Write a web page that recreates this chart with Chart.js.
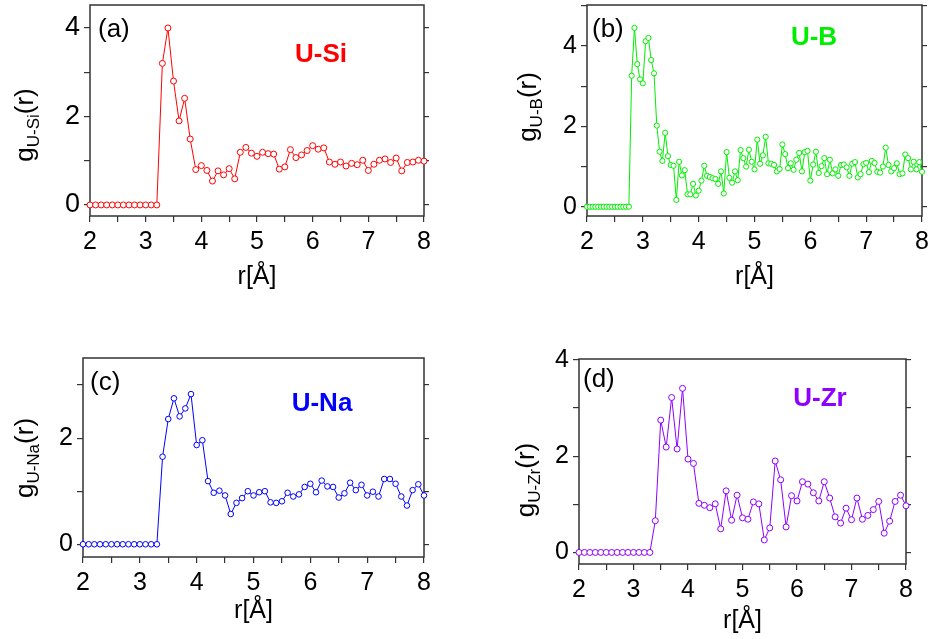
<!DOCTYPE html>
<html>
<head>
<meta charset="utf-8">
<script src="https://cdn.jsdelivr.net/npm/chart.js@4.4.0/dist/chart.umd.min.js"></script>
<style>
	html, body { margin: 0; padding: 0; background: #fff; }
	body { width: 934px; height: 639px; position: relative; overflow: hidden; }
	canvas { position: absolute; }
</style>
</head>
<body>
<canvas id="cA" style="left:0px;top:0px" width="467" height="292"></canvas>
<canvas id="cB" style="left:467px;top:0px" width="467" height="292"></canvas>
<canvas id="cC" style="left:0px;top:320px" width="467" height="306"></canvas>
<canvas id="cD" style="left:467px;top:320px" width="467" height="316"></canvas>
<script>
// r grids (Å)
const rCoarse = [2.0, 2.1, 2.2, 2.3, 2.4, 2.5, 2.6, 2.7, 2.8, 2.9, 3.0, 3.1, 3.2, 3.3, 3.4, 3.5, 3.6, 3.7, 3.8, 3.9,
	4.0, 4.1, 4.2, 4.3, 4.4, 4.5, 4.6, 4.7, 4.8, 4.9, 5.0, 5.1, 5.2, 5.3, 5.4, 5.5, 5.6, 5.7, 5.8, 5.9,
	6.0, 6.1, 6.2, 6.3, 6.4, 6.5, 6.6, 6.7, 6.8, 6.9, 7.0, 7.1, 7.2, 7.3, 7.4, 7.5, 7.6, 7.7, 7.8, 7.9, 8.0];
const rFine = [2.00, 2.05, 2.10, 2.15, 2.20, 2.25, 2.30, 2.35, 2.40, 2.45, 2.50, 2.55, 2.60, 2.65, 2.70, 2.75,
	2.80, 2.85, 2.90, 2.95, 3.00, 3.05, 3.10, 3.15, 3.20, 3.25, 3.30, 3.35, 3.40, 3.45, 3.50, 3.55, 3.60, 3.65, 3.70, 3.75,
	3.80, 3.85, 3.90, 3.95, 4.00, 4.05, 4.10, 4.15, 4.20, 4.25, 4.30, 4.35, 4.40, 4.45, 4.50, 4.55, 4.60, 4.65, 4.70, 4.75,
	4.80, 4.85, 4.90, 4.95, 5.00, 5.05, 5.10, 5.15, 5.20, 5.25, 5.30, 5.35, 5.40, 5.45, 5.50, 5.55, 5.60, 5.65, 5.70, 5.75,
	5.80, 5.85, 5.90, 5.95, 6.00, 6.05, 6.10, 6.15, 6.20, 6.25, 6.30, 6.35, 6.40, 6.45, 6.50, 6.55, 6.60, 6.65, 6.70, 6.75,
	6.80, 6.85, 6.90, 6.95, 7.00, 7.05, 7.10, 7.15, 7.20, 7.25, 7.30, 7.35, 7.40, 7.45, 7.50, 7.55, 7.60, 7.65, 7.70, 7.75,
	7.80, 7.85, 7.90, 7.95, 8.00];

// g(r) values
const gUSi = [0, 0, 0, 0, 0, 0, 0, 0, 0, 0, 0, 0, 0,
	3.20, 4.00, 2.80, 1.90, 2.41, 1.49, 0.80, 0.89, 0.78, 0.54,
	0.77, 0.68, 0.82, 0.59, 1.19, 1.30, 1.17, 1.10, 1.19, 1.16,
	1.15, 0.81, 0.86, 1.25, 1.07, 1.13, 1.23, 1.34, 1.26, 1.29,
	0.97, 0.92, 0.97, 0.88, 0.94, 0.91, 1.01, 0.78, 0.92, 1.01,
	1.04, 0.96, 1.06, 0.77, 0.96, 0.97, 1.01, 0.99];
const gUB = [0, 0, 0, 0, 0, 0, 0, 0, 0, 0, 0, 0, 0, 0, 0, 0,
	3.26, 4.45, 3.55, 3.17, 3.07, 4.12, 4.20, 3.65, 3.32, 2.02, 1.37, 1.14, 1.84, 1.26, 1.04, 1.02, 0.17, 1.12, 0.78, 0.91,
	0.31, 0.31, 0.57, 0.28, 0.40, 0.65, 1.02, 0.77, 0.74, 0.71, 0.69, 0.57, 0.88, 0.33, 1.36, 0.72, 0.60, 0.88, 0.66, 1.41,
	1.21, 1.00, 1.42, 1.12, 0.93, 1.67, 1.07, 1.28, 1.74, 1.08, 1.07, 1.04, 0.88, 0.94, 1.55, 1.31, 0.96, 1.08, 0.92, 1.17,
	1.34, 0.88, 1.36, 1.39, 0.65, 1.05, 1.37, 0.84, 1.01, 1.21, 0.81, 1.17, 0.83, 0.93, 0.77, 1.04, 1.05, 0.98, 0.77, 1.07,
	1.11, 0.73, 0.81, 1.06, 1.09, 0.86, 1.14, 1.09, 0.87, 0.85, 1.00, 1.47, 1.04, 0.88, 0.96, 1.08, 0.81, 0.83, 1.30, 1.21,
	0.93, 1.12, 0.93, 1.11, 0.87];
const gUNa = [0, 0, 0, 0, 0, 0, 0, 0, 0, 0, 0, 0, 0, 0,
	1.65, 2.36, 2.75, 2.41, 2.56, 2.83, 1.87, 1.96, 1.19,
	0.97, 1.01, 0.92, 0.57, 0.78, 0.87, 1.00, 0.92, 0.98, 1.00,
	0.79, 0.78, 0.81, 0.97, 0.90, 0.94, 1.08, 1.14, 0.98, 1.20,
	1.09, 1.08, 0.88, 0.96, 1.16, 1.02, 1.12, 0.92, 0.99, 0.90,
	1.23, 1.23, 1.14, 0.90, 0.73, 1.02, 1.13, 0.92];
const gUZr = [0, 0, 0, 0, 0, 0, 0, 0, 0, 0, 0, 0, 0, 0,
	0.66, 2.75, 2.19, 3.22, 2.15, 3.41, 1.94, 1.85, 1.02,
	0.98, 0.93, 1.01, 0.49, 1.28, 0.67, 1.19, 0.72, 0.69, 1.05,
	1.01, 0.26, 0.51, 1.90, 1.51, 0.53, 1.18, 1.07, 1.47, 1.42,
	1.24, 1.07, 1.47, 1.13, 0.74, 0.61, 0.92, 0.68, 1.13, 0.69,
	0.77, 0.89, 1.06, 0.40, 0.65, 1.06, 1.19, 0.97];

const xTickValues = [2, 3, 4, 5, 6, 7, 8];
const yTickValues = [0, 2, 4];

const SANS = '"Liberation Sans", Arial, sans-serif';
const NARROW = '"Liberation Sans Narrow", "Liberation Sans", Arial, sans-serif';
const AXIS = '#333';

// box round the plot area
const framePlugin = {
	id: 'frame',
	beforeDatasetsDraw(chart) {
		const a = chart.chartArea, ctx = chart.ctx;
		ctx.save();
		ctx.strokeStyle = AXIS;
		ctx.lineWidth = 1.5;
		ctx.strokeRect(a.left, a.top, a.right - a.left, a.bottom - a.top);
		ctx.restore();
	}
};

// y title with subscript, panel letter and pair name
const textPlugin = {
	id: 'texts',
	afterDraw(chart, args, o) {
		const ctx = chart.ctx;
		ctx.save();
		ctx.fillStyle = '#000';
		ctx.translate(o.yx, o.yy);
		ctx.rotate(-Math.PI / 2);
		ctx.textBaseline = 'alphabetic';
		const big = '26px ' + SANS, small = '17px ' + SANS;
		ctx.font = big; const w1 = ctx.measureText('g').width, w3 = ctx.measureText('(r)').width;
		ctx.font = small; const w2 = ctx.measureText(o.sub).width;
		let x = -(w1 + w2 + w3) / 2;
		ctx.font = big; ctx.fillText('g', x, 0); x += w1;
		ctx.font = small; ctx.fillText(o.sub, x, 6); x += w2;
		ctx.font = big; ctx.fillText('(r)', x, 0);
		ctx.restore();

		ctx.save();
		ctx.textBaseline = 'middle';
		ctx.textAlign = 'left';
		ctx.fillStyle = '#000';
		ctx.font = '26px ' + SANS;
		ctx.fillText(o.letter, o.lx, o.ly);
		ctx.textAlign = 'center';
		ctx.fillStyle = o.color;
		ctx.font = 'bold 26px ' + SANS;
		ctx.fillText(o.name, o.nx, o.ny);
		ctx.restore();
	}
};

function makePanel(id, p) {
	const pts = p.r.map((r, i) => ({ x: r, y: p.g[i] }));
	const xFont = p.narrow ? NARROW : SANS;
	return new Chart(document.getElementById(id).getContext('2d'), {
		type: 'line',
		data: {
			datasets: [{
				data: pts,
				borderColor: p.color,
				borderWidth: 1,
				pointRadius: p.radius,
				pointBorderWidth: 1,
				pointBackgroundColor: '#fff',
				pointBorderColor: p.color,
				tension: 0,
				clip: false
			}]
		},
		options: {
			responsive: false,
			animation: false,
			events: [],
			layout: { padding: { top: p.padTop, left: 0, right: 0, bottom: 0 } },
			plugins: {
				legend: { display: false },
				tooltip: { enabled: false },
				texts: p.texts
			},
			scales: {
				x: {
					type: 'linear', min: 2, max: 8,
					border: { display: false },
					grid: { drawOnChartArea: false, drawTicks: true, tickLength: 6, color: AXIS, lineWidth: 1.2 },
					ticks: {
						stepSize: 0.5, autoSkip: false, maxRotation: 0, padding: 5,
						color: '#000', font: { family: xFont, size: 25 },
						callback: v => xTickValues.includes(v) ? String(v) : ''
					},
					title: { display: true, text: 'r[Å]', color: '#000', padding: 0, font: { family: xFont, size: 25 } },
					afterFit: s => { s.height = p.xh; s.paddingLeft = 0; s.paddingRight = 0; }
				},
				y: {
					type: 'linear', min: p.ymin, max: p.ymax,
					border: { display: false },
					grid: { drawOnChartArea: false, drawTicks: true, tickLength: 6, color: AXIS, lineWidth: 1.2 },
					ticks: {
						stepSize: 1, includeBounds: false, autoSkip: false, padding: 4,
						color: '#000', font: { family: SANS, size: p.yFont },
						callback: v => yTickValues.includes(v) ? String(v) : ''
					},
					afterFit: s => { s.width = p.yw; s.paddingTop = 0; s.paddingBottom = 0; }
				},
				y2: {
					type: 'linear', position: 'right', min: p.ymin, max: p.ymax,
					border: { display: false },
					grid: { drawOnChartArea: false, drawTicks: true, tickLength: 5, color: AXIS, lineWidth: 1.2 },
					ticks: { stepSize: 1, includeBounds: false, display: false },
					afterFit: s => { s.width = p.rw; s.paddingTop = 0; s.paddingBottom = 0; }
				}
			}
		},
		plugins: [framePlugin, textPlugin]
	});
}

makePanel('cA', {
	r: rCoarse, g: gUSi, color: '#ff0000', radius: 3, yFont: 27,
	ymin: -0.25, ymax: 4.52, padTop: 4, xh: 76, yw: 90, rw: 43,
	texts: { sub: 'U-Si', yx: 33, yy: 125, letter: '(a)', lx: 98, ly: 30, name: 'U-Si', nx: 321, ny: 55, color: '#ff0000' }
});
makePanel('cB', {
	r: rFine, g: gUB, color: '#00ee00', radius: 2.6, yFont: 25,
	ymin: -0.23, ymax: 5.02, padTop: 4, xh: 76, yw: 120, rw: 12,
	texts: { sub: 'U-B', yx: 536 - 467, yy: 107, letter: '(b)', lx: 592 - 467, ly: 30, name: 'U-B', nx: 814 - 467, ny: 38, color: '#00ee00' }
});
makePanel('cC', {
	r: rCoarse, g: gUNa, color: '#0000ff', radius: 2.8, narrow: true, yFont: 25,
	ymin: -0.24, ymax: 3.51, padTop: 38, xh: 69, yw: 83, rw: 43,
	texts: { sub: 'U-Na', yx: 33, yy: 458 - 320, letter: '(c)', lx: 90, ly: 383 - 320, name: 'U-Na', nx: 322, ny: 404 - 320, color: '#0000ff' }
});
makePanel('cD', {
	r: rCoarse, g: gUZr, color: '#8f00ff', radius: 3, narrow: true, yFont: 25,
	ymin: -0.24, ymax: 4.02, padTop: 39, xh: 72, yw: 112, rw: 28,
	texts: { sub: 'U-Zr', yx: 534 - 467, yy: 480 - 320, letter: '(d)', lx: 583 - 467, ly: 380 - 320, name: 'U-Zr', nx: 820 - 467, ny: 399 - 320, color: '#8f00ff' }
});
</script>
</body>
</html>
